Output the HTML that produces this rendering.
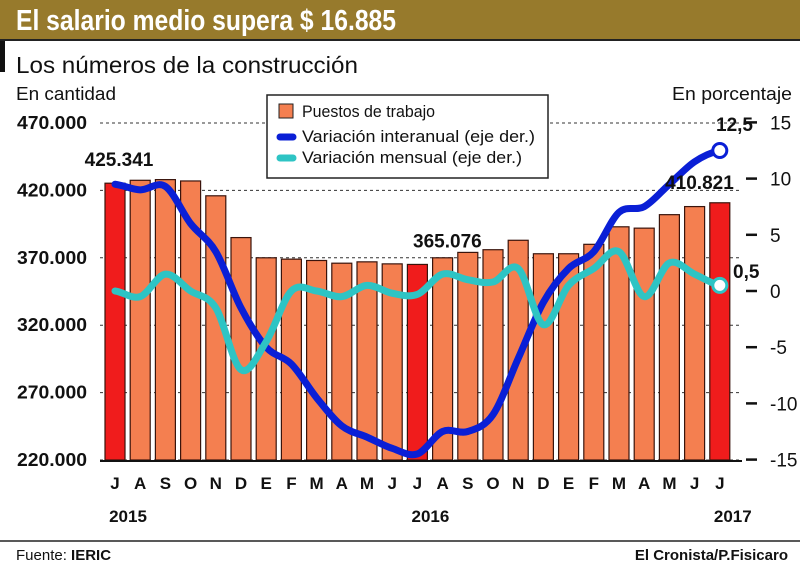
<!DOCTYPE html>
<html><head><meta charset="utf-8"><style>
body{margin:0;background:#fff;width:800px;height:567px;overflow:hidden;font-family:"Liberation Sans",sans-serif}
</style></head><body>
<svg width="800" height="567" viewBox="0 0 800 567" id="svg">
<rect x="0" y="0" width="800" height="40" fill="#977a2c"/>
<rect x="0" y="40" width="5" height="32" fill="#111"/>
<line x1="0" y1="40" x2="800" y2="40" stroke="#222" stroke-width="2"/>
<text x="16" y="30" font-size="29" font-weight="bold" fill="#fff" textLength="380" lengthAdjust="spacingAndGlyphs">El salario medio supera $ 16.885</text>
<text x="16" y="73" font-size="23" fill="#111" textLength="342" lengthAdjust="spacingAndGlyphs">Los números de la construcción</text>
<text x="16" y="100" font-size="18" fill="#111" textLength="100" lengthAdjust="spacingAndGlyphs">En cantidad</text>
<text x="672" y="100" font-size="18" fill="#111" textLength="120" lengthAdjust="spacingAndGlyphs">En  porcentaje</text>
<g id="grid"></g><g id="bars"></g><g id="lines"></g><g id="axes"></g>
<g>
<rect x="267" y="95" width="281" height="83" fill="#fff" stroke="#222" stroke-width="1.5"/>
<rect x="279" y="104" width="14" height="14" fill="#f47f50" stroke="#222"/>
<text x="302" y="117" font-size="17" fill="#111" textLength="133" lengthAdjust="spacingAndGlyphs">Puestos de trabajo</text>
<line x1="280" y1="137" x2="293" y2="137" stroke="#0a1fd6" stroke-width="7" stroke-linecap="round"/>
<text x="302" y="142" font-size="17" fill="#111" textLength="233" lengthAdjust="spacingAndGlyphs">Variación interanual (eje der.)</text>
<line x1="280" y1="158" x2="293" y2="158" stroke="#2ec4c4" stroke-width="7" stroke-linecap="round"/>
<text x="302" y="163" font-size="17" fill="#111" textLength="220" lengthAdjust="spacingAndGlyphs">Variación mensual (eje der.)</text>
</g>
<line x1="0" y1="541" x2="800" y2="541" stroke="#222" stroke-width="1.5"/>
<text x="16" y="560" font-size="15" fill="#111">Fuente: <tspan font-weight="bold">IERIC</tspan></text>
<text x="788" y="560" font-size="15" font-weight="bold" fill="#111" text-anchor="end">El Cronista/P.Fisicaro</text>
</svg>
<script>
const months=["J","A","S","O","N","D","E","F","M","A","M","J","J","A","S","O","N","D","E","F","M","A","M","J","J"];
const jobs=[425341,427500,428000,427000,416000,385000,370000,369000,368000,366000,367000,365500,365076,370000,374000,376000,383000,373000,373000,380000,393000,392000,402000,408000,410821];
const interanual=[9.5,9,9.3,6,3.5,-1.5,-5,-6.5,-9.5,-12,-13,-14,-14.5,-12.5,-12.5,-11,-6,-1,2,3.5,7,7.5,9.5,11.5,12.5];
const mensual=[0,-0.5,1.5,0,-1.5,-7,-4.5,0,0,-0.5,0.5,-0.2,-0.3,1.5,1,0.8,2,-3,0.5,2,3.5,-0.5,2.5,1.5,0.5];
const leftTicks=[220000,270000,320000,370000,420000,470000];
const rightTicks=[-15,-10,-5,0,5,10,15];
const years=[["2015",0],["2016",12],["2017",24]];
const highlight=[0,12,24];
const NS="http://www.w3.org/2000/svg";
const yL=v=>460-(v-220000)/50000*67.4;
const yR=v=>291-v*11.24;
const xC=i=>115+i*25.2;
function mk(t,a,p){const e=document.createElementNS(NS,t);for(const k in a)e.setAttribute(k,a[k]);document.getElementById(p).appendChild(e);return e;}
leftTicks.forEach(v=>{
 const l=mk("line",{x1:100,x2:742,y1:yL(v),y2:yL(v),stroke:"#333","stroke-dasharray":"3,3","stroke-width":1},"grid");
 
 
 const t=mk("text",{x:87,y:yL(v)+6,"font-size":18,"font-weight":"bold","text-anchor":"end",fill:"#111",textLength:70,lengthAdjust:"spacingAndGlyphs"},"axes");
 t.textContent=v.toLocaleString("de-DE");
 
 
});
rightTicks.forEach(v=>{
 mk("line",{x1:746,x2:757,y1:yR(v),y2:yR(v),stroke:"#111","stroke-width":2.5},"axes");
 const t=mk("text",{x:770,y:yR(v)+7,"font-size":19,fill:"#111","text-anchor":"start"},"axes");
 t.textContent=v<0?"-"+(-v):v;
 
 
});
jobs.forEach((v,i)=>{
 const r=mk("rect",{x:xC(i)-10,y:yL(v),width:20,height:460-yL(v),fill:highlight.includes(i)?"#f01c1c":"#f47f50",stroke:"#3a140c","stroke-width":1.2},"bars");
 
 
 const t=mk("text",{x:xC(i),y:489,"font-size":17,"font-weight":"bold","text-anchor":"middle",fill:"#111"},"axes");
 t.textContent=months[i];
 
 
});
mk("line",{x1:100,x2:742,y1:461,y2:461,stroke:"#111","stroke-width":2},"axes");
years.forEach(([y,i])=>{const t=mk("text",{x:xC(i)+13,y:522,"font-size":17,"font-weight":"bold","text-anchor":"middle",fill:"#111"},"axes");t.textContent=y;
 
 });
function smooth(vals){let d="";vals.forEach((v,i)=>{const x=xC(i),y=yR(v);if(!i){d+="M"+x+","+y;return;}
 const px=xC(i-1),py=yR(vals[i-1]);const p0=i>1?yR(vals[i-2]):py;const n=i<vals.length-1?yR(vals[i+1]):y;
 const c1y=py+(y-p0)/6,c2y=y-(n-py)/6;d+=` C${px+8.4},${c1y} ${x-8.4},${c2y} ${x},${y}`;});return d;}
const b=mk("path",{d:smooth(interanual),fill:"none",stroke:"#0a1fd6","stroke-width":7,"stroke-linecap":"round"},"lines");


const c=mk("path",{d:smooth(mensual),fill:"none",stroke:"#2ec4c4","stroke-width":7,"stroke-linecap":"round"},"lines");


const n=jobs.length-1;
mk("circle",{cx:xC(n),cy:yR(interanual[n]),r:7,fill:"#fff",stroke:"#0a1fd6","stroke-width":3},"lines");
mk("circle",{cx:xC(n),cy:yR(mensual[n]),r:7,fill:"#fff",stroke:"#2ec4c4","stroke-width":3},"lines");
const labels=[[xC(0)+4,yL(jobs[0])-17,jobs[0].toLocaleString("de-DE"),"middle"],[xC(12)+30,yL(jobs[12])-17,jobs[12].toLocaleString("de-DE"),"middle"],[xC(24)+14,yL(jobs[24])-14,jobs[24].toLocaleString("de-DE"),"end"],[716,131,"12,5","start"],[733,278,"0,5","start"]];
labels.forEach(([x,y,s,a])=>{const t=mk("text",{x:x,y:y,"font-size":19,"font-weight":"bold","text-anchor":a,fill:"#111"},"lines");t.textContent=s;
 
 });
</script>
</body></html>
